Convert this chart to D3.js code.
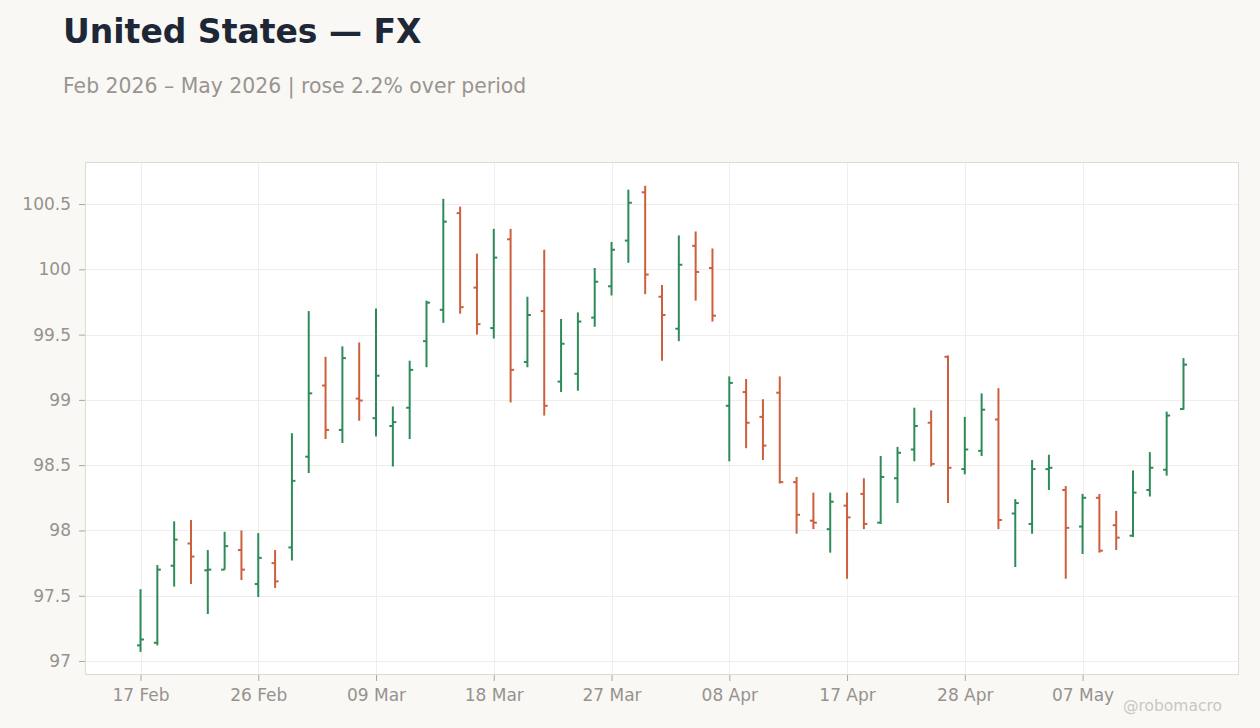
<!DOCTYPE html>
<html>
<head>
<meta charset="utf-8">
<script src="https://cdn.jsdelivr.net/npm/d3@7"></script>
<style>
  html, body { margin: 0; padding: 0; background: #f9f8f5; }
  svg { display: block; font-family: "DejaVu Sans", sans-serif; }
</style>
</head>
<body>
<svg id="chart" width="1260" height="728"></svg>
<script>
// trading days (Good Friday skipped)
const dates = [
  "2026-02-17","2026-02-18","2026-02-19","2026-02-20","2026-02-23","2026-02-24","2026-02-25","2026-02-26",
  "2026-02-27","2026-03-02","2026-03-03","2026-03-04","2026-03-05","2026-03-06","2026-03-09","2026-03-10",
  "2026-03-11","2026-03-12","2026-03-13","2026-03-16","2026-03-17","2026-03-18","2026-03-19","2026-03-20",
  "2026-03-23","2026-03-24","2026-03-25","2026-03-26","2026-03-27","2026-03-30","2026-03-31","2026-04-01",
  "2026-04-02","2026-04-06","2026-04-07","2026-04-08","2026-04-09","2026-04-10","2026-04-13","2026-04-14",
  "2026-04-15","2026-04-16","2026-04-17","2026-04-20","2026-04-21","2026-04-22","2026-04-23","2026-04-24",
  "2026-04-27","2026-04-28","2026-04-29","2026-04-30","2026-05-01","2026-05-04","2026-05-05","2026-05-06",
  "2026-05-07","2026-05-08","2026-05-11","2026-05-12","2026-05-13","2026-05-14","2026-05-15"
];
const open = [
  97.12, 97.14, 97.73, 97.90, 97.695, 97.70, 97.85, 97.59, 97.75, 97.87, 98.565, 99.11, 98.77, 99.01, 98.86, 98.80,
  98.94, 99.45, 99.69, 100.43, 99.86, 99.55, 100.23, 99.29, 99.68, 99.14, 99.20, 99.63, 99.87, 100.22, 100.59, 99.79,
  99.545, 100.18, 100.01, 98.955, 99.06, 98.87, 99.055, 98.37, 98.075, 98.01, 98.19, 98.28, 98.06, 98.40, 98.62, 98.825,
  99.33, 98.47, 98.61, 98.85, 98.13, 98.05, 98.47, 98.31, 98.03, 98.25, 98.04, 97.96, 98.31, 98.465, 98.93
];
const high = [
  97.55, 97.735, 98.07, 98.08, 97.85, 97.99, 98.00, 97.98, 97.85, 98.745, 99.68, 99.33, 99.41, 99.44, 99.70, 98.95,
  99.30, 99.76, 100.54, 100.48, 100.12, 100.31, 100.31, 99.79, 100.15, 99.62, 99.67, 100.01, 100.21, 100.61, 100.64, 99.88,
  100.26, 100.29, 100.16, 99.18, 99.16, 99.005, 99.18, 98.41, 98.29, 98.29, 98.29, 98.40, 98.57, 98.64, 98.94, 98.92,
  99.34, 98.87, 99.05, 99.09, 98.24, 98.54, 98.58, 98.34, 98.28, 98.28, 98.15, 98.46, 98.60, 98.91, 99.32
];
const low = [
  97.07, 97.12, 97.57, 97.59, 97.36, 97.70, 97.62, 97.49, 97.56, 97.77, 98.44, 98.70, 98.67, 98.84, 98.72, 98.49,
  98.70, 99.25, 99.59, 99.66, 99.50, 99.47, 98.98, 99.25, 98.88, 99.06, 99.07, 99.56, 99.80, 100.05, 99.81, 99.30,
  99.45, 99.76, 99.60, 98.53, 98.63, 98.54, 98.36, 97.975, 98.01, 97.83, 97.63, 98.01, 98.05, 98.21, 98.53, 98.49,
  98.21, 98.43, 98.57, 98.01, 97.72, 97.975, 98.31, 97.63, 97.82, 97.83, 97.85, 97.95, 98.26, 98.42, 98.925
];
const close = [
  97.165, 97.70, 97.93, 97.80, 97.70, 97.88, 97.70, 97.79, 97.61, 98.38, 99.05, 98.77, 99.32, 98.995, 99.185, 98.83,
  99.23, 99.745, 100.365, 99.71, 99.58, 100.09, 99.23, 99.65, 98.955, 99.43, 99.60, 99.905, 100.15, 100.51, 99.96, 99.65,
  100.035, 99.98, 99.645, 99.13, 98.825, 98.65, 98.37, 98.12, 98.06, 98.22, 98.10, 98.05, 98.41, 98.595, 98.80, 98.51,
  98.48, 98.62, 98.925, 98.08, 98.21, 98.47, 98.48, 98.02, 98.25, 97.845, 97.945, 98.29, 98.48, 98.88, 99.27
];
const yTicks = [97, 97.5, 98, 98.5, 99, 99.5, 100, 100.5];
const xTickDates = ["2026-02-17","2026-02-26","2026-03-09","2026-03-18","2026-03-27","2026-04-08","2026-04-17","2026-04-28","2026-05-07"];

const svg = d3.select("#chart");
const box = {left: 85, top: 162, right: 1239, bottom: 675};
const upColor = "#2e8b57", downColor = "#cc5f3d";
const labelColor = "#97928d";

const bars = dates.map((d, i) => ({date: d, o: open[i], h: high[i], l: low[i], c: close[i]}));

const x = d3.scalePoint()
    .domain(dates)
    .range([box.left, box.right])
    .padding(3.3);
const y = d3.scaleLinear()
    .domain([96.893, 100.822])
    .range([box.bottom, box.top]);

// titulek
svg.append("text")
    .attr("x", 63).attr("y", 43)
    .attr("font-size", 33).attr("font-weight", "bold")
    .attr("fill", "#1e2736")
    .text("United States — FX");
svg.append("text")
    .attr("x", 63).attr("y", 93)
    .attr("font-size", 20.4)
    .attr("fill", "#999490")
    .text("Feb 2026 – May 2026 | rose 2.2% over period");

// plocha grafu
svg.append("rect")
    .attr("x", box.left + 0.5).attr("y", box.top + 0.5)
    .attr("width", box.right - box.left - 1).attr("height", box.bottom - box.top - 1)
    .attr("fill", "#ffffff")
    .attr("stroke", "#dedad4");

// mrizka
svg.append("g").selectAll("line")
    .data(yTicks)
    .join("line")
    .attr("x1", box.left + 1).attr("x2", box.right - 1)
    .attr("y1", d => Math.round(y(d)) + 0.5).attr("y2", d => Math.round(y(d)) + 0.5)
    .attr("stroke", "#efeeec");
svg.append("g").selectAll("line")
    .data(xTickDates)
    .join("line")
    .attr("x1", d => Math.round(x(d)) + 0.5).attr("x2", d => Math.round(x(d)) + 0.5)
    .attr("y1", box.top + 1).attr("y2", box.bottom - 1)
    .attr("stroke", "#efeeec");

// osy
const fmtDate = d3.timeFormat("%d %b");
const parse = d3.timeParse("%Y-%m-%d");
const xAxis = d3.axisBottom(x)
    .tickValues(xTickDates)
    .tickSize(6)
    .tickPadding(8)
    .tickFormat(d => fmtDate(parse(d)));
const yAxis = d3.axisLeft(y)
    .tickValues(yTicks)
    .tickSize(6)
    .tickPadding(8)
    .tickFormat(d => d3.format("")(d));

const gx = svg.append("g")
    .attr("transform", `translate(0,${box.bottom})`)
    .call(xAxis);
const gy = svg.append("g")
    .attr("transform", `translate(${box.left},0)`)
    .call(yAxis);
[gx, gy].forEach(g => {
    g.attr("font-size", 17).attr("font-family", "DejaVu Sans, sans-serif");
    g.select(".domain").remove();
    g.selectAll(".tick line").attr("stroke", "#aaa6a1");
    g.selectAll(".tick text").attr("fill", labelColor);
});

// OHLC sloupce
const g = svg.append("g");
const color = d => d.c >= d.o ? upColor : downColor;
const bar = g.selectAll("g.bar")
    .data(bars)
    .join("g")
    .attr("class", "bar");
bar.append("line")
    .attr("x1", d => x(d.date)).attr("x2", d => x(d.date))
    .attr("y1", d => y(d.h)).attr("y2", d => y(d.l))
    .attr("stroke", color).attr("stroke-width", 2);
bar.append("line")
    .attr("x1", d => x(d.date) - 3.5).attr("x2", d => x(d.date))
    .attr("y1", d => y(d.o)).attr("y2", d => y(d.o))
    .attr("stroke", color).attr("stroke-width", 2);
bar.append("line")
    .attr("x1", d => x(d.date)).attr("x2", d => x(d.date) + 3.5)
    .attr("y1", d => y(d.c)).attr("y2", d => y(d.c))
    .attr("stroke", color).attr("stroke-width", 2);

// vodoznak
svg.append("text")
    .attr("x", 1222).attr("y", 711)
    .attr("text-anchor", "end")
    .attr("font-size", 15.5)
    .attr("fill", "#cbc7c2")
    .text("@robomacro");
</script>
</body>
</html>
